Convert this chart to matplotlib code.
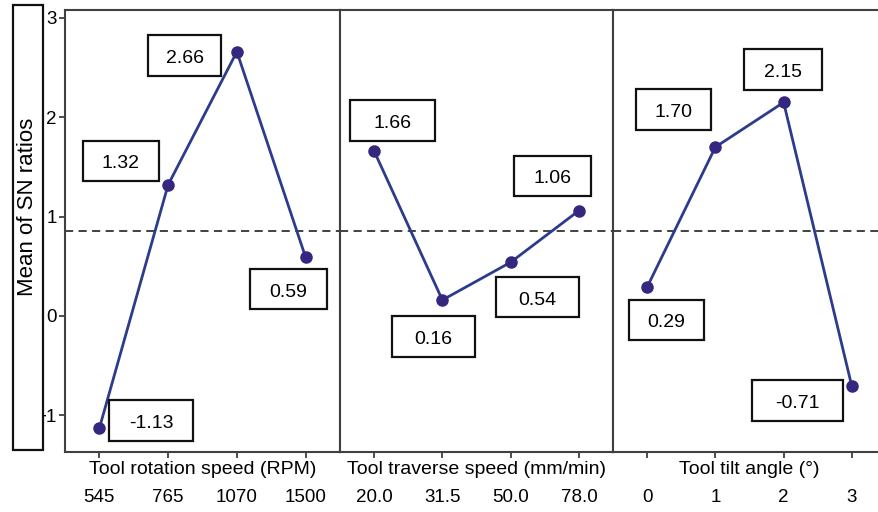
"""Main-effects plot of mean SN ratios for three FSW process parameters."""

import matplotlib
matplotlib.use("Agg")
import matplotlib.pyplot as plt
from matplotlib.patches import Rectangle
from matplotlib.transforms import blended_transform_factory

# data
factors = ["Tool rotation speed (RPM)", "Tool traverse speed (mm/min)", "Tool tilt angle (°)"]
levels_rpm = ["545", "765", "1070", "1500"]
levels_traverse = ["20.0", "31.5", "50.0", "78.0"]
levels_tilt = ["0", "1", "2", "3"]
sn_rpm = [-1.13, 1.32, 2.66, 0.59]
sn_traverse = [1.66, 0.16, 0.54, 1.06]
sn_tilt = [0.29, 1.70, 2.15, -0.71]
grand_mean = 0.86

# label box placement: centre offset from the point (data units) and box width
box_dx = [[0.75, -0.69, -0.76, -0.25], [0.27, -0.13, 0.39, -0.39], [0.28, -0.62, -0.01, -0.80]]
box_dy = [[0.08, 0.24, -0.04, -0.32], [0.31, -0.37, -0.35, 0.35], [-0.33, 0.38, 0.33, -0.14]]
box_w = [[1.21, 1.11, 1.07, 1.11], [1.25, 1.22, 1.22, 1.13], [1.10, 1.10, 1.14, 1.34]]
BOX_H = 0.41

LINE = "#2c3c8a"
MARK = "#35277f"
SPINE = "#404040"

W, H = 879, 512
plt.rcParams.update({"font.family": ["Liberation Sans", "DejaVu Sans"], "font.size": 13})
fig = plt.figure(figsize=(W / 100, H / 100), dpi=100)

bottom, top = 452, 10
edges = [65, 340, 613, 886]
levels = [levels_rpm, levels_traverse, levels_tilt]
series = [sn_rpm, sn_traverse, sn_tilt]

for k in range(3):
    ax = fig.add_axes([edges[k] / W, 1 - bottom / H, (edges[k + 1] - edges[k]) / W, (bottom - top) / H])
    xs = range(len(series[k]))
    ax.plot(xs, series[k], color=LINE, lw=2.0, zorder=3)
    ax.plot(xs, series[k], "o", color=MARK, ms=8, zorder=4)
    ax.axhline(grand_mean, color="#333333", lw=1.3, dashes=(4.5, 3), zorder=2)
    ax.set_xlim(-0.5, 3.5)
    ax.set_ylim(-1.37, 3.08)
    ax.set_xticks(list(xs), levels[k])
    ax.tick_params(axis="x", length=4, width=1.3, color=SPINE, pad=23, labelsize=13.5)
    if k == 0:
        ax.set_yticks([-1, 0, 1, 2, 3])
        ax.tick_params(axis="y", length=4, width=1.3, color=SPINE, pad=2, labelsize=13.5)
    else:
        ax.set_yticks([])
    for spine in ax.spines.values():
        spine.set_color(SPINE)
        spine.set_linewidth(1.5)
    trans = blended_transform_factory(ax.transData, ax.transAxes)
    ax.text(1.5, -(470 - bottom) / (bottom - top), factors[k], transform=trans,
            ha="center", va="center", fontsize=14, clip_on=False)

    for i, v in enumerate(series[k]):
        cx, cy = i + box_dx[k][i], v + box_dy[k][i]
        w = box_w[k][i]
        ax.add_patch(Rectangle((cx - w / 2, cy - BOX_H / 2), w, BOX_H, facecolor="white",
                               edgecolor="#111111", lw=1.6, zorder=5))
        ax.text(cx, cy - 0.03, f"{v:.2f}", ha="center", va="center", fontsize=14, zorder=6)

# boxed y-axis title
fig.add_artist(Rectangle((13 / W, 1 - 450 / H), 30 / W, 445 / H, transform=fig.transFigure,
                         facecolor="white", edgecolor="#111111", lw=1.6))
fig.text(28 / W, 1 - 207 / H, "Mean of SN ratios", rotation=90, ha="center", va="center", fontsize=16)

fig.savefig("out.png", dpi=100)
